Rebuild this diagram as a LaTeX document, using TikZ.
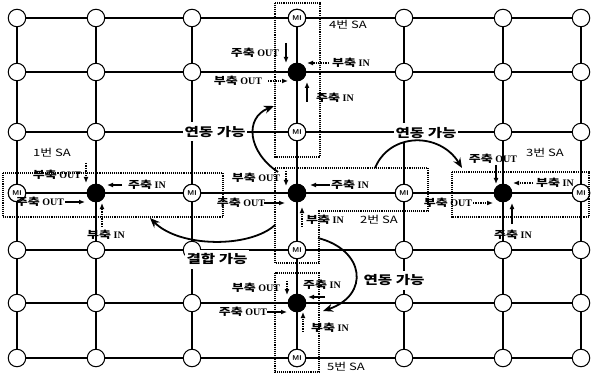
\documentclass[tikz,border=0pt]{standalone}
\usepackage{fontspec}
\setmainfont{Liberation Serif}
\newfontfamily\kr{Noto Sans CJK KR}[FakeStretch=1.3]
\usetikzlibrary{calc}
\usetikzlibrary{positioning}
\usetikzlibrary{arrows.meta}
\tikzset{
terminal/.style={draw,circle,fill=white,line width=1pt,minimum size=17.5pt,inner sep=0pt},
minode/.style={terminal,font=\sffamily\bfseries\fontsize{7}{7}\selectfont},
sanode/.style={terminal,fill=black},
gridline/.style={line width=1.1pt},
mainflow/.style={-{Latex[length=6pt,width=5pt]}, line width=1.4pt},
subflow/.style={mainflow, densely dotted},
flowtag/.style={inner sep=0pt, font=\bfseries\fontsize{10}{10}\selectfont},
satag/.style={inner sep=0pt, font=\kr\fontsize{10}{10}\selectfont},
linktag/.style={fill=white, inner sep=1.5pt, inner xsep=2pt, minimum height=19pt, font=\kr\bfseries\fontsize{12}{12}\selectfont},
linkarrow/.style={-{Stealth[length=10pt,width=8pt]}, line width=1.8pt},
sabox/.style={densely dotted, line width=1.1pt},
}

\begin{document}
\begin{tikzpicture}[x=1pt,y=-1pt]
\useasboundingbox (0,0) rectangle (591,374);
%Place the grid
\foreach \r/\y in {0/18,1/72,2/132,3/193,4/250,5/303,6/358}
	\foreach \c/\x in {0/17,1/96,2/192,3/297,4/404,5/503,6/581}
		\node[terminal] (\r\c) at (\x,\y) {};

\foreach \r in {0,...,6} {
	\foreach \c [evaluate=\c as \n using int(\c+1)] in {0,...,5} {
		\draw[gridline] (\r\c) -- (\r\n);
		\draw[gridline] (\c\r) -- (\n\r);
	}
}

%SA and MI nodes
\node[sanode] (sa4) at (13) {};
\node[sanode] (sa1) at (31) {};
\node[sanode] (sa2) at (33) {};
\node[sanode] (sa3) at (35) {};
\node[sanode] (sa5) at (53) {};
\foreach \p in {03,23,30,32,34,36,43,63}
	\node[minode] (mi\p) at (\p) {MI};

%SA regions
\draw[sabox] ($(sa4)+(-22,-69)$) rectangle ($(sa4)+(23,85)$);
\draw[sabox] ($(sa1)+(-93,-20)$) rectangle ($(sa1)+(127,24)$);
\draw[sabox] ($(sa3)+(-51,-21)$) rectangle ($(sa3)+(86,24)$);
\draw[sabox] ($(sa5)+(-22,-30)$) rectangle ($(sa5)+(22,69)$);
\draw[sabox] ($(sa2)+(-22,-25)$) -- ($(sa2)+(131,-25)$) -- ($(sa2)+(131,18)$)
	-- ($(sa2)+(22,18)$) -- ($(sa2)+(22,70)$) -- ($(sa2)+(-22,70)$) -- cycle;

\node[satag] (sa4tag) at ($(sa4)+(51,-47)$) {4번 SA};
\node[satag] (sa1tag) at ($(sa1)+(-44,-40)$) {1번 SA};
\node[satag] (sa2tag) at ($(sa2)+(82,27)$) {2번 SA};
\node[satag] (sa3tag) at ($(sa3)+(42,-40)$) {3번 SA};
\node[satag] (sa5tag) at ($(sa5)+(49,64)$) {5번 SA};

%Flows at SA 4
\node[flowtag] (m4o) at ($(sa4)+(-42,-19)$) {{\kr 주축} OUT};
\draw[mainflow] ($(sa4)+(-11,-29)$) -- ($(sa4)+(-11,-9)$);
\node[flowtag] (s4i) at ($(sa4)+(54,-9)$) {{\kr 부축} IN};
\draw[subflow] ($(sa4)+(32,-9)$) -- ($(sa4)+(10,-9)$);
\node[flowtag] (s4o) at ($(sa4)+(-59,9)$) {{\kr 부축} OUT};
\draw[subflow] ($(sa4)+(-29,9)$) -- ($(sa4)+(-9,9)$);
\node[flowtag] (m4i) at ($(sa4)+(38,26)$) {{\kr 주축} IN};
\draw[mainflow] ($(sa4)+(10,30)$) -- ($(sa4)+(10,10)$);

%Flows at SA 1
\node[flowtag] (s1o) at ($(sa1)+(-39,-18)$) {{\kr 부축} OUT};
\draw[subflow] ($(sa1)+(-10,-30)$) -- ($(sa1)+(-10,-10)$);
\node[flowtag] (m1i) at ($(sa1)+(51,-8)$) {{\kr 주축} IN};
\draw[mainflow] ($(sa1)+(26,-8)$) -- ($(sa1)+(11,-8)$);
\node[flowtag] (m1o) at ($(sa1)+(-56,9)$) {{\kr 주축} OUT};
\draw[mainflow] ($(sa1)+(-31,9)$) -- ($(sa1)+(-11,9)$);
\node[flowtag] (s1i) at ($(sa1)+(10,42)$) {{\kr 부축} IN};
\draw[subflow] ($(sa1)+(6,34)$) -- ($(sa1)+(6,10)$);

%Flows at SA 2
\node[flowtag] (s2o) at ($(sa2)+(-41,-15)$) {{\kr 부축} OUT};
\draw[subflow] ($(sa2)+(-11,-22)$) -- ($(sa2)+(-11,-7)$);
\node[flowtag] (m2i) at ($(sa2)+(53,-8)$) {{\kr 주축} IN};
\draw[mainflow] ($(sa2)+(33,-8)$) -- ($(sa2)+(13,-8)$);
\node[flowtag] (m2o) at ($(sa2)+(-56,10)$) {{\kr 주축} OUT};
\draw[mainflow] ($(sa2)+(-33,10)$) -- ($(sa2)+(-12,10)$);
\node[flowtag] (s2i) at ($(sa2)+(28,27)$) {{\kr 부축} IN};
\draw[subflow] ($(sa2)+(5,34)$) -- ($(sa2)+(5,14)$);

%Flows at SA 3
\node[flowtag] (m3o) at ($(sa3)+(-10,-34)$) {{\kr 주축} OUT};
\draw[mainflow] ($(sa3)+(-7,-28)$) -- ($(sa3)+(-7,-9)$);
\node[flowtag] (s3i) at ($(sa3)+(52,-10)$) {{\kr 부축} IN};
\draw[subflow] ($(sa3)+(30,-10)$) -- ($(sa3)+(10,-10)$);
\node[flowtag] (s3o) at ($(sa3)+(-55,10)$) {{\kr 부축} OUT};
\draw[subflow] ($(sa3)+(-30,10)$) -- ($(sa3)+(-10,10)$);
\node[flowtag] (m3i) at ($(sa3)+(10,42)$) {{\kr 주축} IN};
\draw[mainflow] ($(sa3)+(9,31)$) -- ($(sa3)+(9,10)$);

%Flows at SA 5
\node[flowtag] (s5o) at ($(sa5)+(-41,-15)$) {{\kr 부축} OUT};
\draw[subflow] ($(sa5)+(-10,-22)$) -- ($(sa5)+(-10,-8)$);
\node[flowtag] (m5i) at ($(sa5)+(25,-18)$) {{\kr 주축} IN};
\draw[mainflow] ($(sa5)+(28,-6)$) -- ($(sa5)+(11,-6)$);
\node[flowtag] (m5o) at ($(sa5)+(-54,9)$) {{\kr 주축} OUT};
\draw[mainflow] ($(sa5)+(-30,9)$) -- ($(sa5)+(-10,9)$);
\node[flowtag] (s5i) at ($(sa5)+(33,25)$) {{\kr 부축} IN};
\draw[subflow] ($(sa5)+(6,29)$) -- ($(sa5)+(6,9)$);

%Links between regions
\node[linktag] (link4) at ($(22)+(23,0)$) {연동 가능};
\node[linktag] (link3) at ($(24)+(22,1)$) {연동 가능};
\node[linktag] (join1) at ($(42)+(25,9)$) {결합 가능};
\node[linktag] (link5) at ($(44)+(-10,30)$) {연동 가능};

\coordinate (from4) at (278,172); \coordinate (to4) at (274,106);
\coordinate (from3) at (375,168); \coordinate (to3) at (462,168);
\coordinate (from1) at (275,225); \coordinate (to1) at (150,218);
\coordinate (from5) at (318,238); \coordinate (to5) at (323,311);
\draw[linkarrow] (from4) .. controls +(-30,-20) and +(-30,12) .. (to4);
\draw[linkarrow] (from3) .. controls +(15,-36) and +(-22,-36) .. (to3);
\draw[linkarrow] (from1) .. controls +(-25,23) and +(30,30) .. (to1);
\draw[linkarrow] (from5) .. controls +(47,12) and +(47,-16) .. (to5);

\end{tikzpicture}
\end{document}
